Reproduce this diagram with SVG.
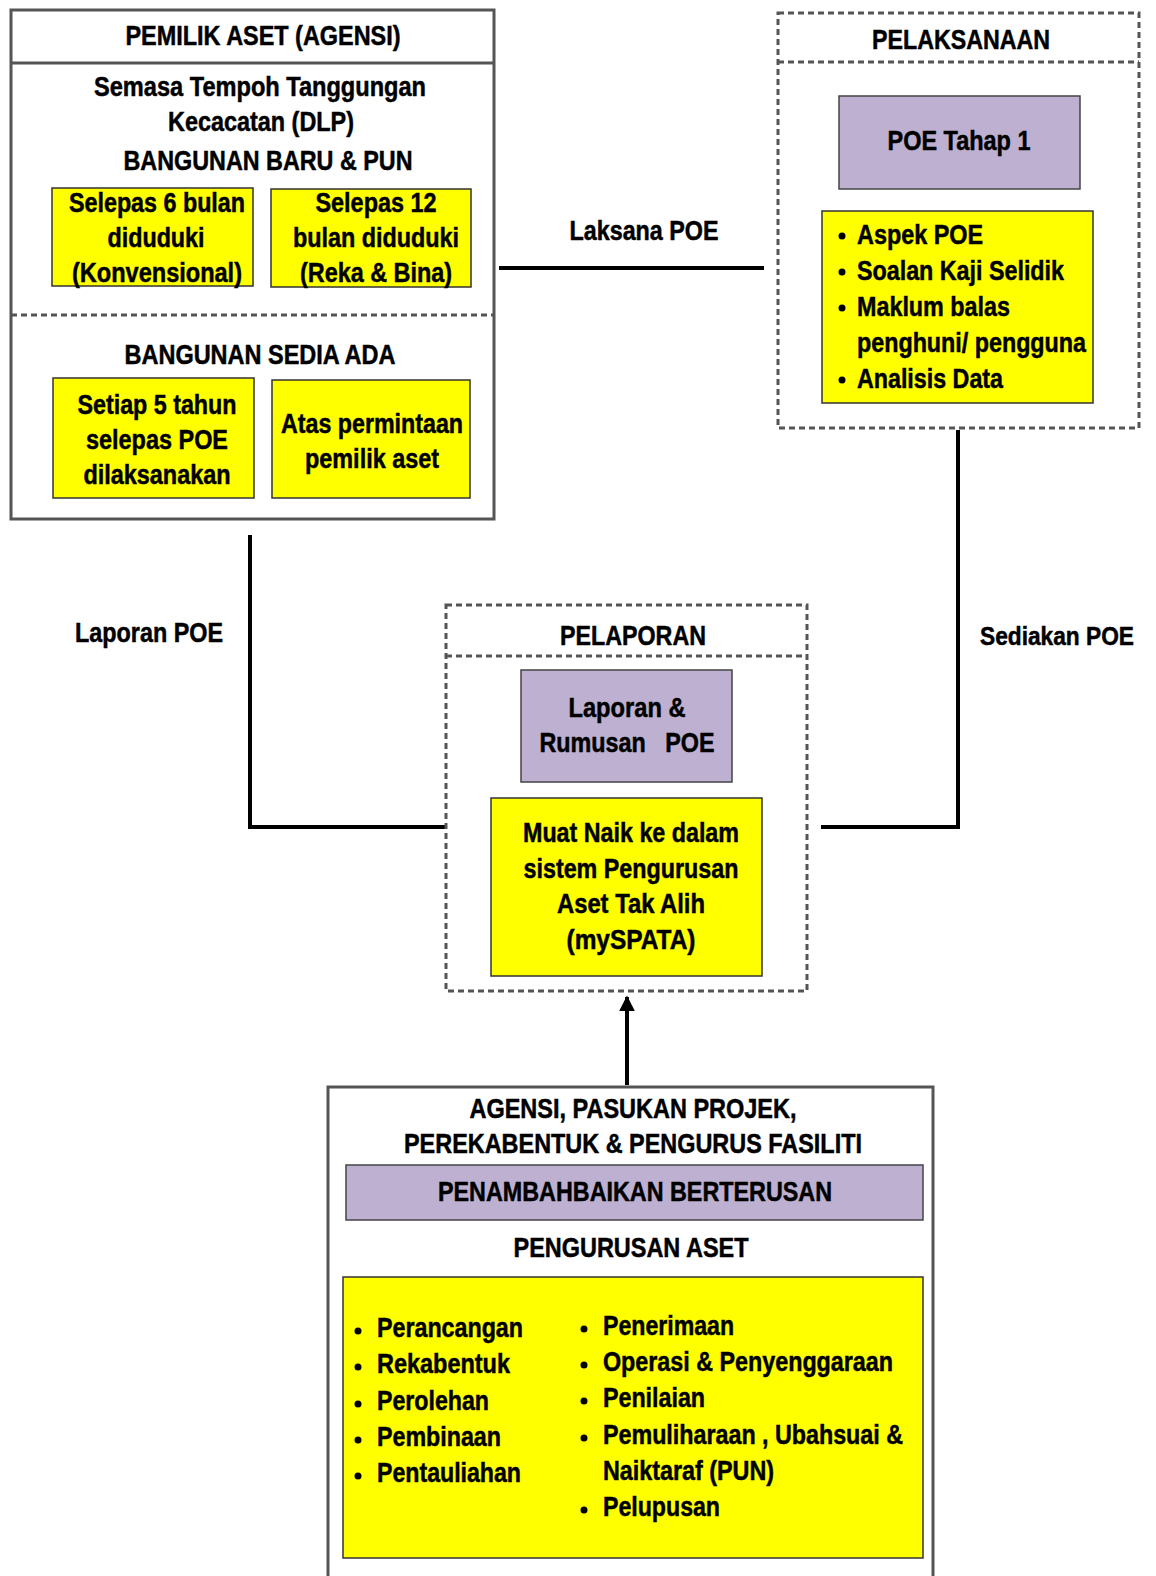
<svg xmlns="http://www.w3.org/2000/svg" width="1156" height="1576" viewBox="0 0 1156 1576">
<style>
text{font-family:"Liberation Sans",Arial,sans-serif;font-weight:bold;font-size:28px;fill:#000;stroke:#000;stroke-width:0.5}
.c{text-anchor:middle}
.box{fill:#fff;stroke:#555;stroke-width:3}
.dash{fill:none;stroke:#555;stroke-width:3;stroke-dasharray:6,4}
.yel{fill:#ffff00;stroke:#333;stroke-width:1.5}
.pur{fill:#bdb0d1;stroke:#444;stroke-width:1.5}
.con{fill:none;stroke:#000;stroke-width:4}
</style>
<defs>
<marker id="arr" viewBox="0 0 10 10" refX="9" refY="5" markerWidth="4" markerHeight="4" orient="auto">
<path d="M0,0 L10,5 L0,10 z" fill="#000"/>
</marker>
</defs>
<rect width="1156" height="1576" fill="#fff"/>

<g id="connectors">
<line class="con" x1="499" y1="268" x2="764" y2="268"/>
<polyline class="con" points="958,430 958,827 821,827"/>
<polyline class="con" points="250,535 250,827 446,827"/>
<line class="con" x1="627" y1="1085" x2="627" y2="997" marker-end="url(#arr)"/>
<text x="644" y="240" class="c" textLength="149" lengthAdjust="spacingAndGlyphs">Laksana POE</text>
<text x="75" y="642" textLength="148" lengthAdjust="spacingAndGlyphs">Laporan POE</text>
<text x="1057" y="645" class="c" style="font-size:26px" textLength="154" lengthAdjust="spacingAndGlyphs">Sediakan POE</text>
</g>

<g id="pemilik">
<rect class="box" x="11" y="10" width="483" height="509"/>
<line x1="11" y1="63" x2="494" y2="63" stroke="#555" stroke-width="3"/>
<line x1="11" y1="315" x2="494" y2="315" stroke="#555" stroke-width="3" stroke-dasharray="6,4"/>
<text x="263" y="45" class="c" textLength="275" lengthAdjust="spacingAndGlyphs">PEMILIK ASET (AGENSI)</text>
<text x="260" y="96" class="c" textLength="332" lengthAdjust="spacingAndGlyphs">Semasa Tempoh Tanggungan</text>
<text x="261" y="131" class="c" textLength="186" lengthAdjust="spacingAndGlyphs">Kecacatan (DLP)</text>
<text x="268" y="170" class="c" textLength="289" lengthAdjust="spacingAndGlyphs">BANGUNAN BARU &amp; PUN</text>
<rect class="yel" x="52" y="188" width="201" height="98"/>
<text x="157" y="212" class="c" textLength="176" lengthAdjust="spacingAndGlyphs">Selepas 6 bulan</text>
<text x="156" y="247" class="c" textLength="97" lengthAdjust="spacingAndGlyphs">diduduki</text>
<text x="157" y="282" class="c" textLength="170" lengthAdjust="spacingAndGlyphs">(Konvensional)</text>
<rect class="yel" x="271" y="189" width="200" height="98"/>
<text x="376" y="212" class="c" textLength="121" lengthAdjust="spacingAndGlyphs">Selepas 12</text>
<text x="376" y="247" class="c" textLength="166" lengthAdjust="spacingAndGlyphs">bulan diduduki</text>
<text x="376" y="282" class="c" textLength="152" lengthAdjust="spacingAndGlyphs">(Reka &amp; Bina)</text>
<text x="260" y="364" class="c" textLength="271" lengthAdjust="spacingAndGlyphs">BANGUNAN SEDIA ADA</text>
<rect class="yel" x="53" y="378" width="201" height="120"/>
<text x="157" y="414" class="c" textLength="159" lengthAdjust="spacingAndGlyphs">Setiap 5 tahun</text>
<text x="157" y="449" class="c" textLength="142" lengthAdjust="spacingAndGlyphs">selepas POE</text>
<text x="157" y="484" class="c" textLength="147" lengthAdjust="spacingAndGlyphs">dilaksanakan</text>
<rect class="yel" x="272" y="380" width="198" height="118"/>
<text x="372" y="433" class="c" textLength="182" lengthAdjust="spacingAndGlyphs">Atas permintaan</text>
<text x="372" y="468" class="c" textLength="134" lengthAdjust="spacingAndGlyphs">pemilik aset</text>
</g>

<g id="pelaksanaan">
<rect class="dash" x="778" y="13" width="361" height="415"/>
<line x1="778" y1="62" x2="1139" y2="62" stroke="#555" stroke-width="3" stroke-dasharray="6,4"/>
<text x="961" y="49" class="c" textLength="178" lengthAdjust="spacingAndGlyphs">PELAKSANAAN</text>
<rect class="pur" x="839" y="96" width="241" height="93"/>
<text x="959" y="150" class="c" textLength="143" lengthAdjust="spacingAndGlyphs">POE Tahap 1</text>
<rect class="yel" x="822" y="211" width="271" height="192"/>
<circle cx="842" cy="236" r="3.5"/>
<circle cx="842" cy="272" r="3.5"/>
<circle cx="842" cy="308" r="3.5"/>
<circle cx="842" cy="380" r="3.5"/>
<text x="857" y="244" textLength="126" lengthAdjust="spacingAndGlyphs">Aspek POE</text>
<text x="857" y="280" textLength="207" lengthAdjust="spacingAndGlyphs">Soalan Kaji Selidik</text>
<text x="857" y="316" textLength="153" lengthAdjust="spacingAndGlyphs">Maklum balas</text>
<text x="857" y="352" textLength="229" lengthAdjust="spacingAndGlyphs">penghuni/ pengguna</text>
<text x="857" y="388" textLength="146" lengthAdjust="spacingAndGlyphs">Analisis Data</text>
</g>

<g id="pelaporan">
<rect class="dash" x="446" y="605" width="361" height="386"/>
<line x1="446" y1="656" x2="807" y2="656" stroke="#555" stroke-width="3" stroke-dasharray="6,4"/>
<text x="633" y="645" class="c" textLength="146" lengthAdjust="spacingAndGlyphs">PELAPORAN</text>
<rect class="pur" x="521" y="670" width="211" height="112"/>
<text x="627" y="717" class="c" textLength="117" lengthAdjust="spacingAndGlyphs">Laporan &amp;</text>
<text x="627" y="752" class="c" textLength="175" lengthAdjust="spacingAndGlyphs" xml:space="preserve">Rumusan   POE</text>
<rect class="yel" x="491" y="798" width="271" height="178"/>
<text x="631" y="842" class="c" textLength="216" lengthAdjust="spacingAndGlyphs">Muat Naik ke dalam</text>
<text x="631" y="878" class="c" textLength="215" lengthAdjust="spacingAndGlyphs">sistem Pengurusan</text>
<text x="631" y="913" class="c" textLength="148" lengthAdjust="spacingAndGlyphs">Aset Tak Alih</text>
<text x="631" y="949" class="c" textLength="129" lengthAdjust="spacingAndGlyphs">(mySPATA)</text>
</g>

<g id="pengurusan">
<rect class="box" x="328" y="1087" width="605" height="500"/>
<text x="633" y="1118" class="c" textLength="327" lengthAdjust="spacingAndGlyphs">AGENSI, PASUKAN PROJEK,</text>
<text x="633" y="1153" class="c" textLength="458" lengthAdjust="spacingAndGlyphs">PEREKABENTUK &amp; PENGURUS FASILITI</text>
<rect class="pur" x="346" y="1165" width="577" height="55"/>
<text x="635" y="1201" class="c" textLength="394" lengthAdjust="spacingAndGlyphs">PENAMBAHBAIKAN BERTERUSAN</text>
<text x="631" y="1257" class="c" textLength="235" lengthAdjust="spacingAndGlyphs">PENGURUSAN ASET</text>
<rect class="yel" x="343" y="1277" width="580" height="281"/>
<circle cx="358" cy="1331" r="3.5"/>
<circle cx="358" cy="1367" r="3.5"/>
<circle cx="358" cy="1404" r="3.5"/>
<circle cx="358" cy="1440" r="3.5"/>
<circle cx="358" cy="1476" r="3.5"/>
<text x="377" y="1337" textLength="146" lengthAdjust="spacingAndGlyphs">Perancangan</text>
<text x="377" y="1373" textLength="133" lengthAdjust="spacingAndGlyphs">Rekabentuk</text>
<text x="377" y="1410" textLength="112" lengthAdjust="spacingAndGlyphs">Perolehan</text>
<text x="377" y="1446" textLength="124" lengthAdjust="spacingAndGlyphs">Pembinaan</text>
<text x="377" y="1482" textLength="144" lengthAdjust="spacingAndGlyphs">Pentauliahan</text>
<circle cx="584" cy="1329" r="3.5"/>
<circle cx="584" cy="1365" r="3.5"/>
<circle cx="584" cy="1401" r="3.5"/>
<circle cx="584" cy="1438" r="3.5"/>
<circle cx="584" cy="1510" r="3.5"/>
<text x="603" y="1335" textLength="131" lengthAdjust="spacingAndGlyphs">Penerimaan</text>
<text x="603" y="1371" textLength="290" lengthAdjust="spacingAndGlyphs">Operasi &amp; Penyenggaraan</text>
<text x="603" y="1407" textLength="102" lengthAdjust="spacingAndGlyphs">Penilaian</text>
<text x="603" y="1444" textLength="300" lengthAdjust="spacingAndGlyphs">Pemuliharaan , Ubahsuai &amp;</text>
<text x="603" y="1480" textLength="171" lengthAdjust="spacingAndGlyphs">Naiktaraf (PUN)</text>
<text x="603" y="1516" textLength="117" lengthAdjust="spacingAndGlyphs">Pelupusan</text>
</g>
</svg>
